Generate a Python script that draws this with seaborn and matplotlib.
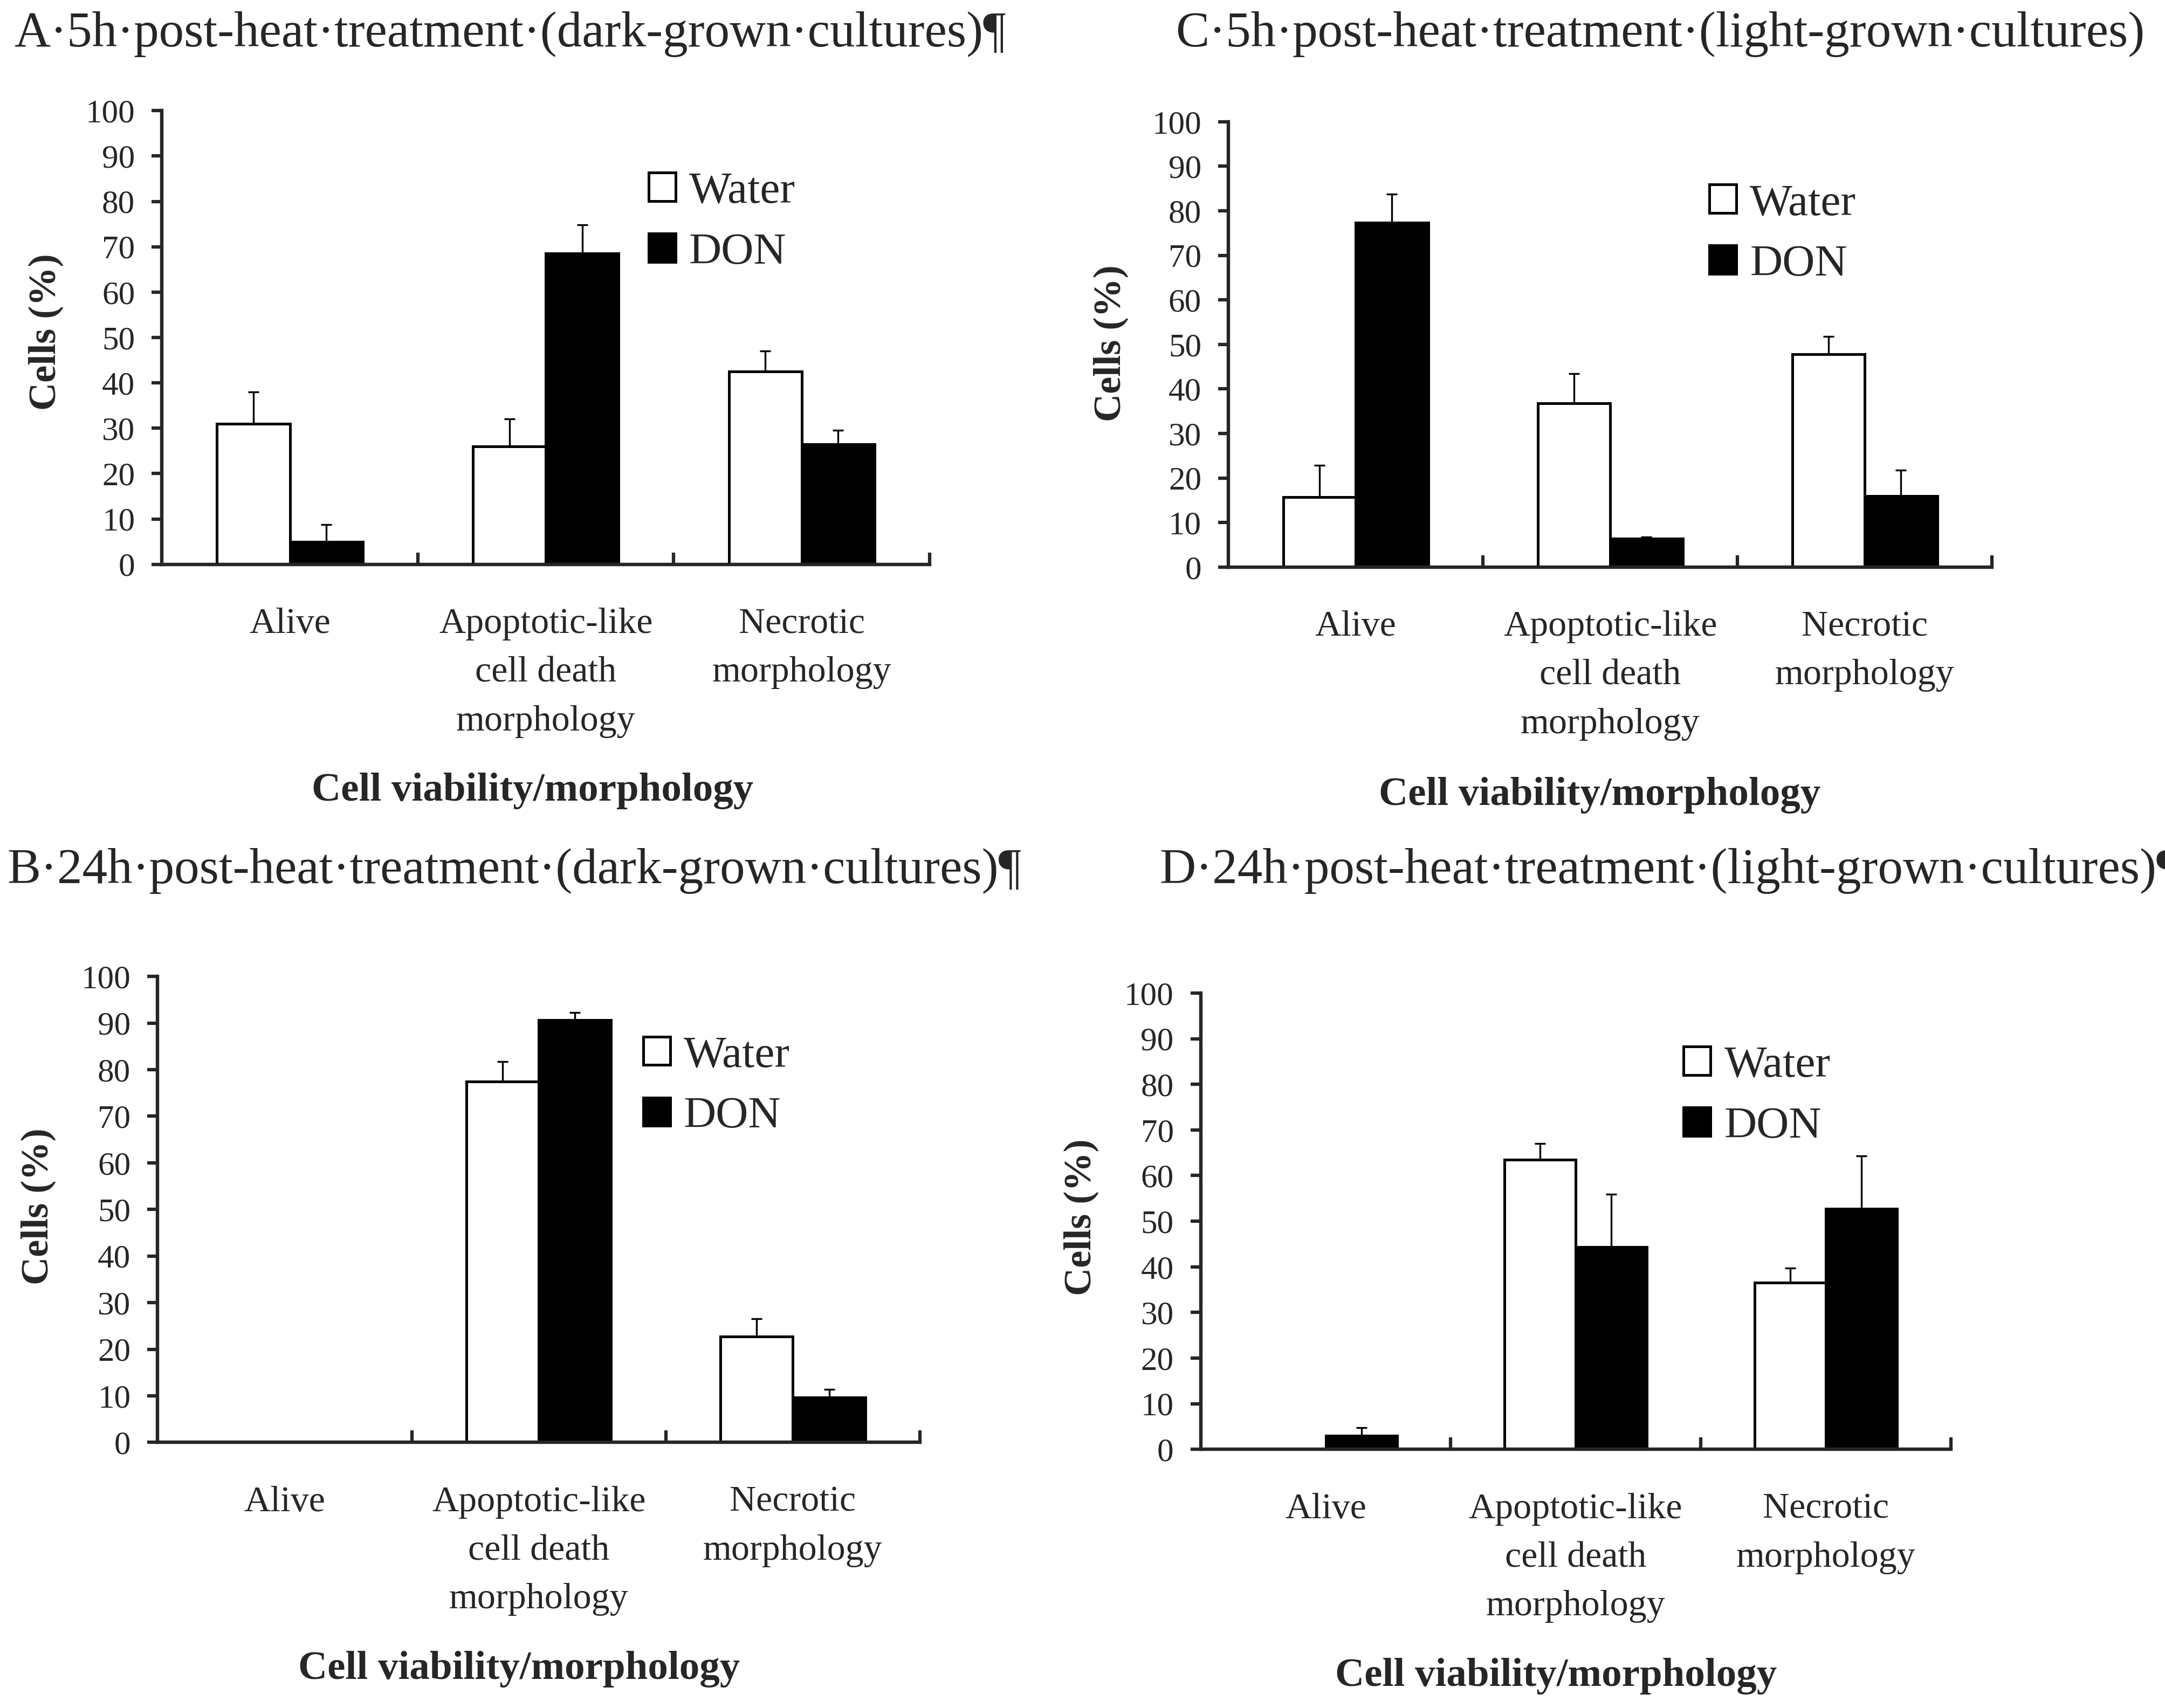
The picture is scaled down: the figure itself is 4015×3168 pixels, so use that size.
import numpy as np
import pandas as pd
import matplotlib
matplotlib.use('Agg')
import matplotlib.pyplot as plt
import seaborn as sns

# categories / groups
categories = ['Alive', 'Apoptotic-like\ncell death\nmorphology', 'Necrotic\nmorphology']
treatments = ['Water', 'DON']

# A: 5h post-heat, dark-grown
a_water = [31.0, 26.0, 42.5]
a_don = [5.0, 68.5, 26.5]
a_water_err = [7.0, 6.0, 4.5]
a_don_err = [3.8, 6.3, 3.0]

# C: 5h post-heat, light-grown
c_water = [15.7, 36.8, 47.8]
c_don = [77.4, 6.4, 16.0]
c_water_err = [7.2, 6.6, 4.0]
c_don_err = [6.3, 0.4, 5.8]

# B: 24h post-heat, dark-grown
b_water = [0.0, 77.5, 22.7]
b_don = [0.0, 90.7, 9.6]
b_water_err = [0.0, 4.2, 3.8]
b_don_err = [0.0, 1.6, 1.8]

# D: 24h post-heat, light-grown
d_water = [0.0, 63.5, 36.5]
d_don = [3.0, 44.4, 52.7]
d_water_err = [0.0, 3.5, 3.2]
d_don_err = [1.8, 11.5, 11.6]

titles = {
    'A': 'A\u00b75h\u00b7post-heat\u00b7treatment\u00b7(dark-grown\u00b7cultures)\u00b6',
    'C': 'C\u00b75h\u00b7post-heat\u00b7treatment\u00b7(light-grown\u00b7cultures)',
    'B': 'B\u00b724h\u00b7post-heat\u00b7treatment\u00b7(dark-grown\u00b7cultures)\u00b6',
    'D': 'D\u00b724h\u00b7post-heat\u00b7treatment\u00b7(light-grown\u00b7cultures)\u00b6',
}

sns.set_style('ticks')
plt.rcParams['font.family'] = ['Liberation Serif', 'DejaVu Serif']

fig = plt.figure(figsize=(40.15, 31.68), dpi=100)

# panel layout (figure fractions) and label/legend placement (axes fractions)
panels = [
    dict(key='A', water=a_water, don=a_don, werr=a_water_err, derr=a_don_err,
         rect=[0.0748, 0.6696, 0.3546, 0.2656], title_xy=(0.0064, 0.9798),
         ylab=(-0.151, 0.512), xlab=(0.483, -0.50), leg=(0.634, 0.866)),
    dict(key='C', water=c_water, don=c_don, werr=c_water_err, derr=c_don_err,
         rect=[0.5674, 0.6680, 0.3527, 0.2607], title_xy=(0.5431, 0.9798),
         ylab=(-0.154, 0.503), xlab=(0.486, -0.512), leg=(0.630, 0.861)),
    dict(key='B', water=b_water, don=b_don, werr=b_water_err, derr=b_don_err,
         rect=[0.0728, 0.1555, 0.3521, 0.2728], title_xy=(0.0032, 0.4899),
         ylab=(-0.156, 0.507), xlab=(0.474, -0.487), leg=(0.637, 0.873)),
    dict(key='D', water=d_water, don=d_don, werr=d_water_err, derr=d_don_err,
         rect=[0.5546, 0.1514, 0.3464, 0.2672], title_xy=(0.5355, 0.4899),
         ylab=(-0.159, 0.509), xlab=(0.474, -0.497), leg=(0.644, 0.885)),
]

for p in panels:
    ax = fig.add_axes(p['rect'])
    df = pd.DataFrame({
        'category': categories * 2,
        'treatment': ['Water'] * 3 + ['DON'] * 3,
        'value': list(p['water']) + list(p['don']),
    })
    sns.barplot(data=df, x='category', y='value', hue='treatment',
                hue_order=treatments, order=categories,
                palette={'Water': 'white', 'DON': 'black'},
                edgecolor='black', linewidth=3.6, width=0.57, gap=0,
                errorbar=None, ax=ax)

    # one-sided (upper) error bars on top of the bars
    errs = [p['werr'], p['derr']]
    for cont, err in zip(ax.containers, errs):
        for bar, e in zip(cont, err):
            if e <= 0:
                continue
            xc = bar.get_x() + bar.get_width() / 2
            ax.errorbar([xc], [bar.get_height()], yerr=[[0], [e]], fmt='none',
                        ecolor='black', elinewidth=2.4, capsize=7, capthick=2.4)

    ax.set_xlim(-0.5, 2.5)
    ax.set_ylim(0, 100)
    ax.set_yticks(np.arange(0, 101, 10))
    ax.tick_params(axis='y', direction='out', length=14, width=4.5, pad=22,
                   labelsize=44)

    # category boundaries as inward ticks, labels at centres
    ax.set_xticks([0.5, 1.5, 2.5])
    ax.set_xticklabels([])
    ax.tick_params(axis='x', which='major', direction='in', length=16, width=4.5)
    ax.set_xticks([0, 1, 2], minor=True)
    ax.set_xticklabels(categories, minor=True, fontsize=49, linespacing=1.62)
    ax.tick_params(axis='x', which='minor', length=0, pad=58)

    sns.despine(ax=ax)
    for s in ['left', 'bottom']:
        ax.spines[s].set_linewidth(4.6)

    ax.set_ylabel('Cells (%)', fontsize=52, fontweight='bold')
    ax.yaxis.set_label_coords(*p['ylab'])
    ax.yaxis.label.set_va('center')
    ax.set_xlabel('Cell viability/morphology', fontsize=54, fontweight='bold')
    ax.xaxis.set_label_coords(*p['xlab'])
    ax.xaxis.label.set_va('center')

    handles, labels = ax.get_legend_handles_labels()
    ax.legend(handles, labels, loc='upper left', bbox_to_anchor=p['leg'],
              frameon=False, fontsize=60, handlelength=0.6, handleheight=0.6,
              handletextpad=0.3, labelspacing=0.45, borderpad=0, borderaxespad=0)

    fig.text(p['title_xy'][0], p['title_xy'][1], titles[p['key']],
             fontsize=67, ha='left', va='center')

fig.savefig('out.png', dpi=100)
